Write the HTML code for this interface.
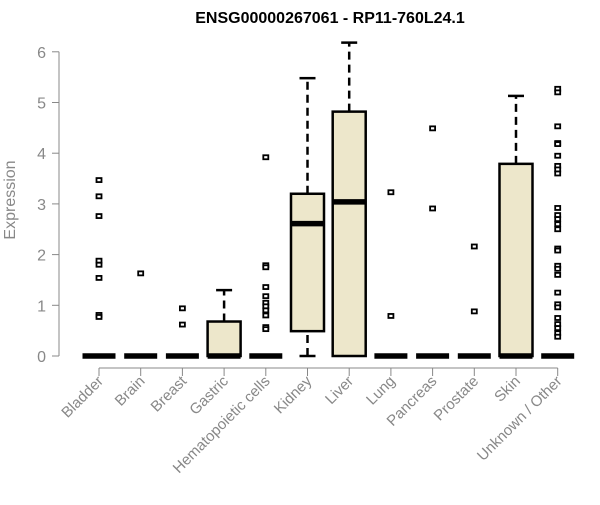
<!DOCTYPE html>
<html><head><meta charset="utf-8"><style>
body{margin:0;background:#fff}
svg text{font-family:"Liberation Sans",Arial,sans-serif}
</style></head><body>
<svg id="chart" width="600" height="500" xmlns="http://www.w3.org/2000/svg">
<text x="330" y="23" text-anchor="middle" font-size="16" font-weight="bold">ENSG00000267061 - RP11-760L24.1</text>
<text transform="translate(15,200) rotate(-90)" text-anchor="middle" font-size="16" fill="#888">Expression</text>
<g id="plot"></g>
</svg>
<script>
const categories=["Bladder","Brain","Breast","Gastric","Hematopoietic cells","Kidney","Liver","Lung","Pancreas","Prostate","Skin","Unknown / Other"];
const q1=[0,0,0,0,0,0.49,0,0,0,0,0,0];
const medians=[0,0,0,0,0,2.61,3.04,0,0,0,0,0];
const q3=[0,0,0,0.68,0,3.2,4.82,0,0,0,3.79,0];
const whiskLo=[0,0,0,0,0,0,0,0,0,0,0,0];
const whiskHi=[0,0,0,1.3,0,5.48,6.18,0,0,0,5.13,0];
const outliers=[[3.47,3.15,2.76,1.88,1.8,1.54,0.81,0.77],[1.63],[0.94,0.62],[],[3.92,1.79,1.75,1.36,1.18,1.05,0.98,0.9,0.8,0.57,0.53],[],[],[3.23,0.79],[4.49,2.91],[2.16,0.88],[],[5.27,5.2,4.53,4.2,4.18,3.95,3.75,3.68,3.6,2.92,2.78,2.7,2.6,2.5,2.12,2.08,1.78,1.72,1.6,1.25,1.02,0.96,0.75,0.63,0.55,0.45,0.38]];
const yTicks=[0,1,2,3,4,5,6];
const NS="http://www.w3.org/2000/svg";
const g=document.getElementById("plot");
const y=v=>356-v*50.7;
const x=i=>99+i*41.7;
const hw=16.5;
function mk(tag,a){const e=document.createElementNS(NS,tag);for(const k in a)e.setAttribute(k,a[k]);g.appendChild(e);return e;}
let e=mk("line",{x1:59,x2:59,y1:y(6),y2:y(0),stroke:"#888"});


yTicks.forEach(t=>{
 let l=mk("line",{x1:52,x2:59,y1:y(t),y2:y(t),stroke:"#888"});
 
 
 let tx=mk("text",{x:46,y:y(t)+6,"text-anchor":"end","font-size":"16",fill:"#888"});
 tx.textContent=t;
 
 
});
e=mk("line",{x1:x(0),x2:x(11),y1:368,y2:368,stroke:"#888"});


categories.forEach((c,i)=>{
 const cx=x(i);
 let l=mk("line",{x1:cx,x2:cx,y1:368,y2:376,stroke:"#888"});
 
 
 let tx=mk("text",{transform:`translate(${cx+5},382) rotate(-45)`,"text-anchor":"end","font-size":"15",fill:"#888"});
 tx.textContent=c;
 
 
 if(whiskHi[i]>q3[i]){
  let w=mk("line",{x1:cx,x2:cx,y1:y(q3[i]),y2:y(whiskHi[i]),stroke:"#000","stroke-width":2.5,"stroke-dasharray":"8,5"});
  
  
  let c2=mk("line",{x1:cx-8,x2:cx+8,y1:y(whiskHi[i]),y2:y(whiskHi[i]),stroke:"#000","stroke-width":2.5});
  
  
 }
 if(q1[i]>whiskLo[i]){
  let w=mk("line",{x1:cx,x2:cx,y1:y(whiskLo[i]),y2:y(q1[i]),stroke:"#000","stroke-width":2.5,"stroke-dasharray":"8,5"});
  
  
  let c2=mk("line",{x1:cx-8,x2:cx+8,y1:y(whiskLo[i]),y2:y(whiskLo[i]),stroke:"#000","stroke-width":2.5});
  
  
 }
 if(q3[i]>q1[i]){
  let b=mk("rect",{x:cx-hw,y:y(q3[i]),width:2*hw,height:y(q1[i])-y(q3[i]),fill:"#ede7cb",stroke:"#000","stroke-width":2.5});
  
  
 }
 let m=mk("line",{x1:cx-hw,x2:cx+hw,y1:y(medians[i]),y2:y(medians[i]),stroke:"#000","stroke-width":5.5});
 
 
 outliers[i].forEach(v=>{
  let p=mk("rect",{x:cx-2.5,y:y(v)-2,width:5,height:4,fill:"#fff",stroke:"#000","stroke-width":1.8});
  
  
 });
});
</script>
</body></html>
